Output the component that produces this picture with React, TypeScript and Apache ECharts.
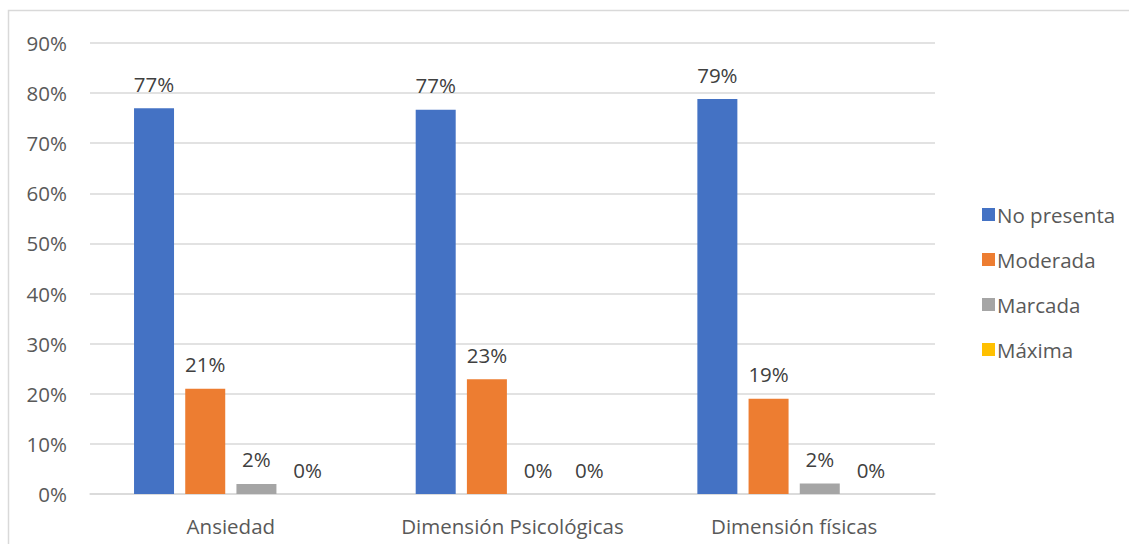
import React, { useEffect, useRef } from "react";
import * as echarts from "echarts";

const categories = ["Ansiedad", "Dimensión Psicológicas", "Dimensión físicas"];
const seriesNames = ["No presenta", "Moderada", "Marcada", "Máxima"];
const noPresenta = [77.0, 76.7, 78.8];
const moderada = [21.0, 22.9, 19.0];
const marcada = [2.0, 0, 2.1];
const maxima = [0, 0, 0];
const colors = ["#4472C4", "#ED7D31", "#A5A5A5", "#FFC000"];
const yTicks = [0, 10, 20, 30, 40, 50, 60, 70, 80, 90];

const FONT = "'Open Sans', 'Noto Sans', sans-serif";
const FS = 20.5;

export default function App() {
  const ref = useRef<HTMLDivElement>(null);
  useEffect(() => {
    if (!ref.current) return;
    const chart = echarts.init(ref.current, undefined, { renderer: "svg" });
    const values = [noPresenta, moderada, marcada, maxima];
    chart.setOption({
      animation: false,
      textStyle: { fontFamily: FONT },
      graphic: [
        {
          type: "rect",
          shape: { x: 8.5, y: 10.5, width: 1130, height: 560 },
          style: { fill: "none", stroke: "#d9d9d9", lineWidth: 1.5 },
          silent: true,
        },
      ],
      grid: { left: 90, right: 194, top: 43, bottom: 50 },
      legend: {
        orient: "vertical",
        left: 977,
        top: 197,
        itemWidth: 13,
        itemHeight: 13,
        itemGap: 20,
        icon: "rect",
        data: seriesNames,
        textStyle: { fontSize: FS, color: "#595959", fontFamily: FONT, padding: [0, 0, 0, -3], lineHeight: 25 },
      },
      xAxis: {
        type: "category",
        data: categories,
        axisLine: { lineStyle: { color: "#d9d9d9", width: 1.5 } },
        axisTick: { show: false },
        axisLabel: {
          fontSize: FS,
          color: "#595959",
          margin: 21,
          fontFamily: FONT,
          interval: 0,
          hideOverlap: false,
        },
      },
      yAxis: {
        type: "value",
        min: 0,
        max: yTicks[yTicks.length - 1],
        interval: 10,
        axisLine: { show: false },
        axisTick: { show: false },
        splitLine: { lineStyle: { color: "#d9d9d9", width: 1.5 } },
        axisLabel: {
          fontSize: FS,
          color: "#595959",
          margin: 23,
          fontFamily: FONT,
          formatter: (v: number) => `${v}%`,
        },
      },
      series: seriesNames.map((name, i) => ({
        name,
        type: "bar",
        data: values[i],
        barWidth: 40,
        barGap: "28%",
        itemStyle: { color: colors[i] },
        label: {
          show: true,
          position: "top",
          distance: 14,
          fontSize: FS,
          color: "#404040",
          fontFamily: FONT,
          formatter: (p: any) => `${Math.round(p.value)}%`,
        },
      })),
    });
    return () => chart.dispose();
  }, []);
  return (
    <div
      ref={ref}
      style={{ position: "fixed", left: 0, top: 0, width: 1129, height: 544, background: "#fff" }}
    />
  );
}
